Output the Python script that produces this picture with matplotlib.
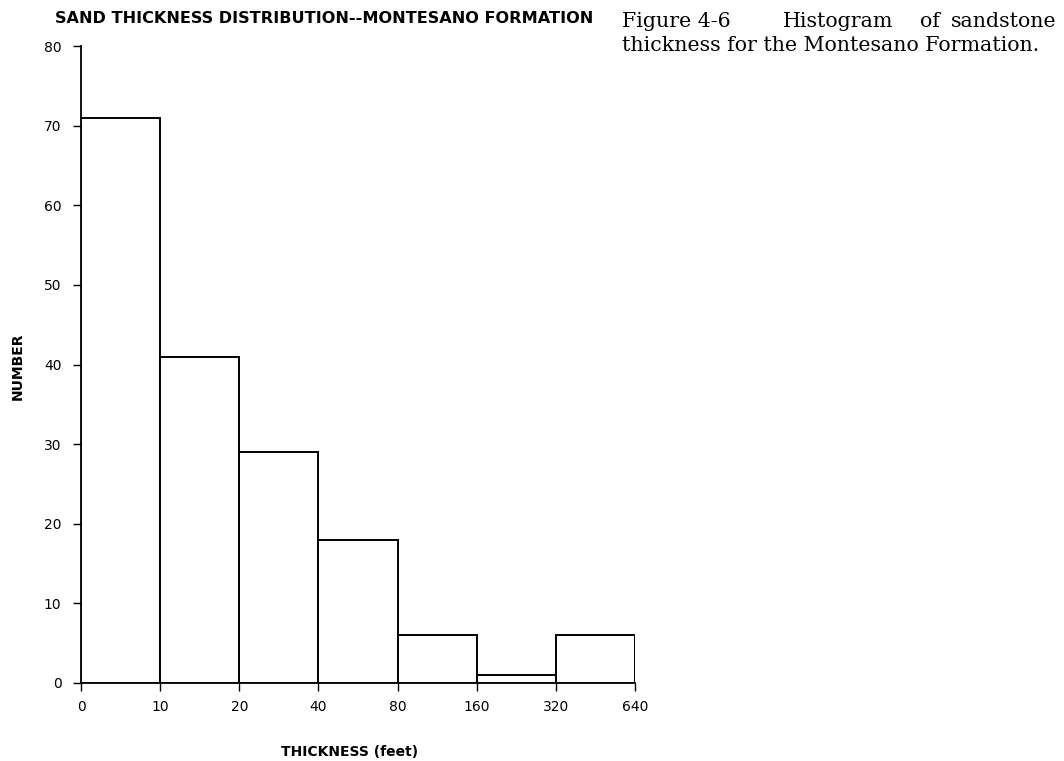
import matplotlib
matplotlib.use('Agg')
import matplotlib.pyplot as plt

# bin edge labels (bins doubling in width, drawn equally spaced)
edge_labels = ['0', '10', '20', '40', '80', '160', '320', '640']
counts = [71, 41, 29, 18, 6, 1, 6]

W, H = 1064, 761
fig = plt.figure(figsize=(W / 100, H / 100), dpi=100)
ax = fig.add_axes([81 / W, 1 - 683 / H, (635 - 81) / W, (683 - 46) / H])

positions = list(range(len(counts)))
ax.bar(positions, counts, width=1.0, align='edge', facecolor='white',
       edgecolor='black', linewidth=1.4, zorder=3)

ax.set_xlim(0, len(counts))
ax.set_ylim(0, 80)
ax.set_xticks(range(len(edge_labels)))
ax.set_xticklabels(edge_labels)
ax.set_yticks(range(0, 81, 10))

for side in ['top', 'right']:
    ax.spines[side].set_visible(False)
ax.spines['left'].set_linewidth(1.3)
ax.spines['bottom'].set_linewidth(1.3)
ax.tick_params(axis='y', direction='out', length=6, width=1,
               labelsize=10, pad=8)
ax.tick_params(axis='x', direction='out', length=6, width=1,
               labelsize=10, pad=6)

bold = {'family': 'DejaVu Sans', 'weight': 'bold'}
fig.text(18 / W, 1 - 366 / H, 'NUMBER', rotation=90, fontsize=10,
         ha='center', va='center', **bold)
fig.text(350 / W, 1 - 752 / H, 'THICKNESS (feet)', fontsize=10,
         ha='center', va='center', **bold)

fig.text(55 / W, 1 - 23 / H, 'SAND THICKNESS DISTRIBUTION--MONTESANO FORMATION',
         fontsize=11.6, ha='left', va='baseline', **bold)

serif = {'family': 'DejaVu Serif', 'fontsize': 14.8}
y1 = 1 - 27 / H
fig.text(622 / W, y1, 'Figure 4-6', ha='left', va='baseline', **serif)
fig.text(783 / W, y1, 'Histogram', ha='left', va='baseline', **serif)
fig.text(920 / W, y1, 'of', ha='left', va='baseline', **serif)
fig.text(1057 / W, y1, 'sandstone', ha='right', va='baseline', **serif)
fig.text(622 / W, 1 - 51 / H, 'thickness for the Montesano Formation.',
         ha='left', va='baseline', **serif)

fig.savefig('out.png', dpi=100)
